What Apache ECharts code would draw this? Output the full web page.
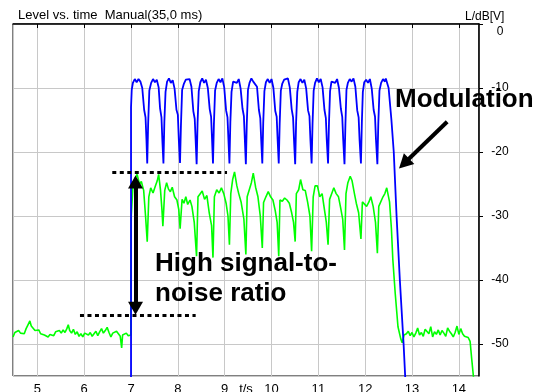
<!DOCTYPE html>
<html>
<head>
<meta charset="utf-8">
<script src="https://cdn.jsdelivr.net/npm/echarts@6/dist/echarts.min.js"></script>
<style>
  html, body { margin: 0; padding: 0; background: #fff; }
  #main { width: 544px; height: 392px; }
</style>
</head>
<body>
<div id="main"></div>
<script>
// axis ranges (s, dB)
const timeRange = [4.48, 14.43];
const levelRange = [-55, 0];

// green trace: noise floor before the burst
const greenBefore = [
  [4.48,-48.9],[4.52,-48.2],[4.56,-48.4],[4.60,-47.9],[4.64,-48.3],[4.68,-48.0],[4.72,-48.4],[4.76,-47.6],
  [4.80,-47.0],[4.84,-46.4],[4.87,-47.2],[4.91,-47.4],[4.95,-47.9],[4.99,-48.2],[5.03,-47.8],[5.07,-48.4],
  [5.11,-48.1],[5.15,-48.6],[5.19,-48.3],[5.23,-48.9],[5.27,-48.5],[5.31,-48.2],[5.35,-48.7],[5.39,-48.1],
  [5.43,-48.4],[5.47,-47.9],[5.51,-48.3],[5.55,-47.8],[5.59,-48.2],[5.63,-47.6],[5.66,-47.0],[5.69,-47.9],
  [5.73,-48.3],[5.77,-47.7],[5.81,-48.5],[5.85,-48.1],[5.89,-48.8],[5.93,-48.4],[5.97,-48.9],[6.01,-48.3],
  [6.05,-48.0],[6.09,-48.6],[6.13,-48.2],[6.17,-48.8],[6.21,-48.4],[6.25,-48.0],[6.29,-48.7],[6.33,-48.1],
  [6.37,-47.6],[6.41,-48.3],[6.45,-47.9],[6.49,-47.4],[6.53,-48.2],[6.57,-48.9],[6.61,-48.3],[6.65,-48.6],
  [6.69,-48.0],[6.73,-48.4],[6.77,-48.8],[6.79,-48.5],[6.80,-50.6],[6.82,-48.6],[6.86,-48.9],[6.90,-48.3],
  [6.94,-48.7],[6.98,-48.4],[6.995,-48.6]
];

// green trace: modulated burst
const greenBurst = [
  [7.005,-30],[7.04,-25.5],[7.08,-24.2],[7.13,-23.5],[7.18,-25],[7.22,-24.6],[7.27,-26],[7.31,-30],[7.346,-34.0],
  [7.38,-27],[7.42,-25.6],[7.47,-26.4],[7.52,-25.3],[7.56,-24.5],[7.59,-23.5],[7.63,-26],[7.66,-29],[7.68,-31.6],
  [7.72,-26],[7.76,-24.8],[7.80,-25.8],[7.84,-26.2],[7.88,-25.5],[7.93,-27],[7.98,-27.5],[8.02,-29],[8.048,-32],
  [8.09,-27.4],[8.13,-28],[8.17,-27],[8.21,-28.2],[8.26,-27.5],[8.30,-28.5],[8.35,-31],[8.399,-36.3],
  [8.43,-27],[8.47,-26.6],[8.52,-26.1],[8.57,-27.4],[8.62,-26.8],[8.67,-29.5],[8.72,-31.5],[8.750,-36.5],
  [8.78,-27],[8.83,-25.9],[8.88,-26.4],[8.93,-25.6],[8.98,-26.5],[9.03,-28],[9.07,-30],[9.101,-34.5],
  [9.13,-26.5],[9.17,-24.3],[9.21,-23.1],[9.26,-25.3],[9.30,-26.5],[9.35,-27.8],[9.41,-30.5],[9.452,-36],
  [9.48,-27],[9.52,-26.8],[9.57,-24.8],[9.61,-23.3],[9.66,-25.5],[9.71,-27],[9.76,-30],[9.803,-35],
  [9.83,-27.9],[9.88,-27],[9.93,-26.2],[9.98,-27],[10.03,-27.5],[10.08,-29.2],[10.12,-31],[10.154,-36.3],
  [10.18,-27.5],[10.23,-27.7],[10.28,-27.2],[10.33,-27.5],[10.38,-28],[10.43,-29.5],[10.47,-31],[10.505,-34],
  [10.53,-26.5],[10.58,-25.9],[10.62,-24.3],[10.67,-25.9],[10.72,-26],[10.77,-27.8],[10.82,-30],[10.856,-35.5],
  [10.89,-27],[10.93,-25.3],[10.98,-25.3],[11.03,-27],[11.08,-26.5],[11.13,-29],[11.17,-31],[11.207,-34.5],
  [11.24,-27.4],[11.28,-26.6],[11.33,-25.6],[11.38,-26.5],[11.43,-27],[11.47,-28.5],[11.52,-30.5],[11.558,-35.3],
  [11.59,-26.5],[11.63,-24.8],[11.68,-23.8],[11.72,-24.5],[11.77,-26.5],[11.81,-28],[11.86,-29.5],[11.909,-33.6],
  [11.94,-27.8],[11.98,-27.5],[12.03,-28.5],[12.08,-27.8],[12.12,-27],[12.17,-28.5],[12.22,-31],[12.26,-35.8],
  [12.29,-28.5],[12.33,-28.3],[12.38,-27],[12.42,-26.5],[12.46,-25.6],[12.49,-25.5],[12.52,-27.8],[12.56,-32],
  [12.59,-36.8],[12.64,-42],[12.70,-47.3],[12.76,-49.2],[12.79,-49.8],[12.83,-48.6]
];

// green trace: noise floor after the burst
const greenAfter = [
  [12.88,-48.4],[12.92,-48.0],[12.96,-48.7],[13.00,-48.2],[13.04,-48.9],[13.08,-48.3],[13.12,-47.5],[13.16,-48.6],
  [13.20,-48.2],[13.24,-48.8],[13.28,-47.7],[13.32,-48.0],[13.36,-48.4],[13.40,-47.3],[13.44,-48.9],[13.48,-48.1],
  [13.52,-48.5],[13.56,-47.8],[13.60,-48.6],[13.64,-47.9],[13.68,-48.3],[13.72,-48.8],[13.76,-47.5],[13.80,-48.0],
  [13.84,-48.4],[13.88,-48.9],[13.92,-48.2],[13.96,-47.2],[14.00,-48.5],[14.04,-47.6],[14.08,-48.4],[14.12,-48.8],
  [14.16,-48.6],[14.20,-49.0],[14.24,-49.6],[14.27,-52],[14.31,-55],[14.33,-58]
];

// blue trace: modulation envelope
const blueTrace = [
  [7.0,-60],[7.0,-13],[7.015,-10.3],[7.04,-9.2],[7.08,-8.6],[7.12,-9.1],[7.16,-8.6],[7.20,-9.0],[7.24,-10.0],[7.28,-13.4],[7.31,-14.6],[7.33,-18.2],[7.346,-21.8],
  [7.366,-15.5],[7.391,-10.4],[7.43,-9.2],[7.47,-8.6],[7.51,-9.1],[7.55,-8.7],[7.59,-9.9],[7.62,-13.2],[7.65,-14.6],[7.67,-18.3],[7.692,-21.8],
  [7.712,-15.2],[7.737,-10.6],[7.77,-9.0],[7.81,-8.5],[7.85,-9.2],[7.89,-8.8],[7.93,-10.1],[7.97,-13.4],[8.00,-14.2],[8.02,-18.0],[8.046,-21.7],
  [8.066,-15.8],[8.091,-10.3],[8.13,-9.3],[8.17,-8.7],[8.21,-9.0],[8.25,-8.6],[8.29,-9.8],[8.33,-13.6],[8.36,-14.8],[8.38,-18.2],[8.401,-21.9],
  [8.421,-15.4],[8.446,-10.5],[8.48,-9.1],[8.52,-8.5],[8.56,-9.2],[8.60,-8.7],[8.64,-10.0],[8.68,-13.3],[8.71,-14.5],[8.73,-18.0],[8.750,-21.8],
  [8.770,-15.6],[8.795,-10.4],[8.83,-9.2],[8.87,-8.6],[8.91,-9.1],[8.95,-8.5],[8.99,-9.9],[9.03,-13.5],[9.06,-14.6],[9.08,-18.1],[9.101,-21.8],
  [9.121,-15.3],[9.146,-10.6],[9.18,-9.0],[9.22,-8.7],[9.26,-9.2],[9.30,-8.6],[9.34,-10.1],[9.38,-13.2],[9.41,-14.4],[9.43,-18.0],[9.452,-21.9],
  [9.472,-15.5],[9.497,-10.3],[9.53,-9.2],[9.57,-8.5],[9.61,-9.0],[9.65,-8.7],[9.69,-9.8],[9.73,-13.4],[9.76,-14.7],[9.78,-18.2],[9.803,-21.8],
  [9.823,-15.4],[9.848,-10.5],[9.88,-9.1],[9.92,-8.6],[9.96,-9.2],[10.00,-8.6],[10.04,-10.0],[10.08,-13.6],[10.11,-14.5],[10.13,-18.0],[10.154,-21.8],
  [10.174,-15.6],[10.199,-10.4],[10.23,-9.3],[10.27,-8.7],[10.31,-9.0],[10.35,-8.5],[10.39,-9.9],[10.43,-13.3],[10.46,-14.6],[10.48,-18.1],[10.505,-21.9],
  [10.525,-15.3],[10.55,-10.6],[10.58,-9.1],[10.62,-8.6],[10.66,-9.2],[10.70,-8.7],[10.74,-10.1],[10.78,-13.5],[10.81,-14.4],[10.83,-18.0],[10.856,-21.8],
  [10.876,-15.5],[10.90,-10.4],[10.93,-9.2],[10.97,-8.5],[11.01,-9.1],[11.05,-8.6],[11.09,-9.9],[11.13,-13.4],[11.16,-14.7],[11.18,-18.2],[11.207,-21.8],
  [11.227,-15.4],[11.25,-10.5],[11.28,-9.0],[11.32,-8.7],[11.36,-9.2],[11.40,-8.6],[11.44,-10.0],[11.48,-13.2],[11.51,-14.5],[11.53,-18.0],[11.558,-21.9],
  [11.578,-15.6],[11.60,-10.3],[11.63,-9.2],[11.67,-8.6],[11.71,-9.0],[11.75,-8.5],[11.79,-9.8],[11.83,-13.5],[11.86,-14.6],[11.88,-18.1],[11.909,-21.8],
  [11.929,-15.3],[11.95,-10.6],[11.98,-9.1],[12.02,-8.7],[12.06,-9.2],[12.10,-8.6],[12.14,-10.1],[12.18,-13.4],[12.21,-14.5],[12.23,-18.0],[12.260,-21.9],
  [12.28,-15.5],[12.305,-10.4],[12.34,-9.2],[12.38,-8.6],[12.42,-9.0],[12.44,-8.5],[12.50,-10.0],[12.56,-15],[12.61,-20],[12.67,-30],
  [12.74,-40],[12.82,-50],[12.86,-56],[12.87,-60]
];

const greenTrace = greenBefore.concat(greenBurst, greenAfter);

const FONT = '"Liberation Sans", Arial, sans-serif';

const chart = echarts.init(document.getElementById('main'), null, { renderer: 'canvas' });

chart.setOption({
  animation: false,
  backgroundColor: '#fff',
  title: {
    text: 'Level vs. time  Manual(35,0 ms)',
    left: 18,
    top: 9,
    padding: 0,
    textStyle: { fontSize: 13, fontWeight: 'normal', color: '#000', fontFamily: FONT }
  },
  grid: {
    left: 13, right: 65, top: 24, bottom: 16,
    outerBoundsMode: 'none',
    containLabel: false,
    show: true, borderColor: '#000', borderWidth: 1
  },
  xAxis: {
    type: 'value',
    min: timeRange[0],
    max: timeRange[1],
    splitNumber: 10,
    name: 't/s',
    nameLocation: 'middle',
    nameGap: 7,
    nameMoveOverlap: false,
    nameTextStyle: { color: '#000', fontSize: 13, fontFamily: FONT, verticalAlign: 'top' },
    axisLine: { lineStyle: { color: '#000', width: 1.5 } },
    axisTick: { show: true, length: 4, lineStyle: { color: '#000' } },
    axisLabel: { showMinLabel: false, showMaxLabel: false, margin: 7, color: '#000', fontSize: 13, fontFamily: FONT },
    splitLine: { show: true, lineStyle: { color: '#c8c8c8', width: 1 } }
  },
  yAxis: {
    type: 'value',
    position: 'right',
    min: levelRange[0],
    max: levelRange[1],
    splitNumber: 5,
    axisLine: { show: true, lineStyle: { color: '#000', width: 1.5 } },
    axisTick: { show: true, length: 4, lineStyle: { color: '#000' } },
    axisLabel: {
      showMinLabel: false,
      margin: 21,
      align: 'center',
      color: '#000',
      fontSize: 12,
      fontFamily: FONT,
      // the 0 label sits below its tick, like the original
      formatter: v => (v === 0 ? '{top|0}' : String(v)),
      rich: { top: { padding: [16, 0, 0, 0], fontSize: 12, fontFamily: FONT, color: '#000' } }
    },
    splitLine: { show: true, lineStyle: { color: '#c8c8c8', width: 1 } }
  },
  series: [
    {
      name: 'noise',
      type: 'line',
      data: greenTrace,
      showSymbol: false,
      symbol: 'none',
      lineStyle: { color: '#00ff00', width: 1.6 },
      itemStyle: { color: '#00ff00' },
      z: 2
    },
    {
      name: 'signal',
      type: 'line',
      data: blueTrace,
      showSymbol: false,
      symbol: 'none',
      lineStyle: { color: '#0000ff', width: 1.8 },
      itemStyle: { color: '#0000ff' },
      z: 3,
      markLine: {
        silent: true,
        animation: false,
        symbol: ['none', 'none'],
        label: { show: false },
        emphasis: { disabled: true },
        lineStyle: { color: '#000', width: 3, type: [4, 3.5] },
        data: [
          // dotted level marks
          [{ coord: [6.6, -23.23] }, { coord: [9.05, -23.23] }],
          [{ coord: [5.91, -45.58] }, { coord: [8.38, -45.58] }],
          // double arrow
          [
            { coord: [7.096, -24.7], symbol: 'triangle', symbolSize: [15, 13], lineStyle: { type: 'solid', width: 4, color: '#000' } },
            { coord: [7.096, -44.4], symbol: 'triangle', symbolSize: [15, 13] }
          ],
          // modulation arrow
          [
            { coord: [13.75, -15.27], symbol: 'none', lineStyle: { type: 'solid', width: 4, color: '#000' } },
            { coord: [12.83, -21.8], symbol: 'triangle', symbolSize: [15, 14] }
          ]
        ]
      }
    }
  ],
  graphic: [
    { type: 'text', x: 465, y: 16.5, z: 100, style: { text: 'L/dB[V]', font: '12px ' + FONT, fill: '#000', verticalAlign: 'middle' } },
    { type: 'text', x: 395, y: 100, z: 100, style: { text: 'Modulation', font: 'bold 26px ' + FONT, fill: '#000', verticalAlign: 'middle' } },
    { type: 'text', x: 155, y: 264, z: 100, style: { text: 'High signal-to-', font: 'bold 26px ' + FONT, fill: '#000', verticalAlign: 'middle' } },
    { type: 'text', x: 155, y: 294, z: 100, style: { text: 'noise ratio', font: 'bold 26px ' + FONT, fill: '#000', verticalAlign: 'middle' } }
  ]
});

window.addEventListener('resize', () => chart.resize());
</script>
</body>
</html>
